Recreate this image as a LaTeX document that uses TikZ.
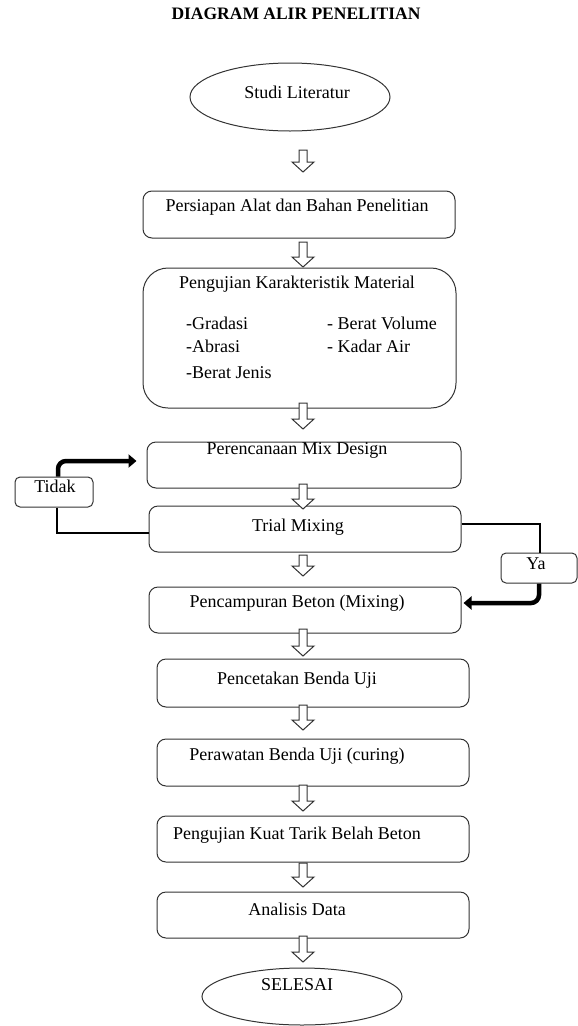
\documentclass[tikz,border=0pt]{standalone}
\usepackage{fontspec}
\setmainfont{Liberation Serif}
\usetikzlibrary{shapes.geometric,arrows.meta}
\tikzset{
  box/.style={draw=black!80, line width=1pt, rounded corners=9pt, inner sep=0pt},
  smallbox/.style={draw=black!80, line width=1pt, rounded corners=5pt, inner sep=0pt},
  oval/.style={draw=black!80, line width=1pt, ellipse, inner sep=0pt},
  txt/.style={inner sep=0pt, font=\fontsize{18}{21}\selectfont, text height=0.7em, text depth=0.2em},
  titletxt/.style={txt, font=\fontsize{17.5}{20}\selectfont\bfseries},
  thin/.style={draw=black, line width=1.4pt},
  thick/.style={draw=black, line width=4.5pt, rounded corners=8pt, -{Triangle[length=8pt,width=13pt]}},
  hollowstyle/.style={draw=black!80, line width=1pt, fill=white, line join=miter}
}
\newcommand\harrow[3]{\draw[hollowstyle] ({#1-4},{#2}) -- ({#1+4},{#2}) -- ({#1+4},{#3-10}) -- ({#1+11},{#3-10}) -- ({#1},{#3}) -- ({#1-11},{#3-10}) -- ({#1-4},{#3-10}) -- cycle;}
\begin{document}
\begin{tikzpicture}[x=1pt,y=-1pt]
\useasboundingbox (0,0) rectangle (578,1026);
\node[titletxt] (title) at (296,17) {DIAGRAM ALIR PENELITIAN};
% shapes
\node[oval, minimum width=200pt, minimum height=68pt] (studi) at (290,97) {};
\node[txt] (studit) at (297,96) {Studi Literatur};
\node[box, minimum width=312pt, minimum height=47pt] (persiapan) at (299,214.5) {};
\node[txt] (persiapant) at (297,209) {Persiapan Alat dan Bahan Penelitian};
\node[box, rounded corners=25pt, minimum width=313pt, minimum height=140pt] (uji) at (299.5,338) {};
\node[txt] (ujit) at (297,286) {Pengujian Karakteristik Material};
\node[txt, anchor=west] (i1) at (186,327) {-Gradasi};
\node[txt, anchor=west] (i2) at (186,350) {-Abrasi};
\node[txt, anchor=west] (i3) at (186,376) {-Berat Jenis};
\node[txt, anchor=west] (i4) at (327,327) {- Berat Volume};
\node[txt, anchor=west] (i5) at (327,350) {- Kadar Air};
\node[box, minimum width=314pt, minimum height=46pt] (mix) at (304,465) {};
\node[txt] (mixt) at (297,452) {Perencanaan Mix Design};
\node[box, minimum width=312pt, minimum height=46pt] (trial) at (305,529) {};
\node[txt] (trialt) at (298,529) {Trial Mixing};
\node[box, minimum width=312pt, minimum height=46pt] (campur) at (305,610) {};
\node[txt] (campurt) at (297,605) {Pencampuran Beton (Mixing)};
\node[box, minimum width=312pt, minimum height=48pt] (cetak) at (313,683) {};
\node[txt] (cetakt) at (297,682) {Pencetakan Benda Uji};
\node[box, minimum width=312pt, minimum height=47pt] (rawat) at (313,762.5) {};
\node[txt] (rawatt) at (297,758) {Perawatan Benda Uji (curing)};
\node[box, minimum width=312pt, minimum height=46pt] (kuat) at (313,839) {};
\node[txt] (kuatt) at (297,837) {Pengujian Kuat Tarik Belah Beton};
\node[box, minimum width=312pt, minimum height=46pt] (analisis) at (313,915) {};
\node[txt] (analisist) at (297,913) {Analisis Data};
\node[oval, minimum width=200pt, minimum height=57pt] (selesai) at (302,996.5) {};
\node[txt] (selesait) at (297,988) {SELESAI};
\node[smallbox, minimum width=78pt, minimum height=30pt] (tidak) at (54,492) {};
\node[txt] (tidakt) at (55,490) {Tidak};
\node[smallbox, minimum width=76pt, minimum height=30pt] (ya) at (539,568) {};
\node[txt] (yat) at (536,567) {Ya};
% hollow arrows
\harrow{303}{150}{172}
\harrow{303}{242}{267}
\harrow{303}{403}{429}
\harrow{303}{484}{509}
\harrow{303}{555}{576}
\harrow{303}{629}{656}
\harrow{303}{705}{730}
\harrow{303}{785}{811}
\harrow{303}{863}{887}
\harrow{303}{936}{962}
% loop connectors
\coordinate (tl) at (57,533);
\coordinate (tu) at (58,461);
\coordinate (yr) at (540,524);
\coordinate (yd) at (539,603);
\draw[thin] (tl -| trial.west) -- (tl) -- (tl |- tidak.south);
\draw[thick] (tu |- tidak.north) -- (tu) -- ([xshift=-10pt]tu -| mix.west);
\draw[thin] (yr -| trial.east) -- (yr) -- (yr |- ya.north);
\draw[thick] (yd |- ya.south) -- (yd) -- ([xshift=2pt]yd -| campur.east);
\end{tikzpicture}
\end{document}
